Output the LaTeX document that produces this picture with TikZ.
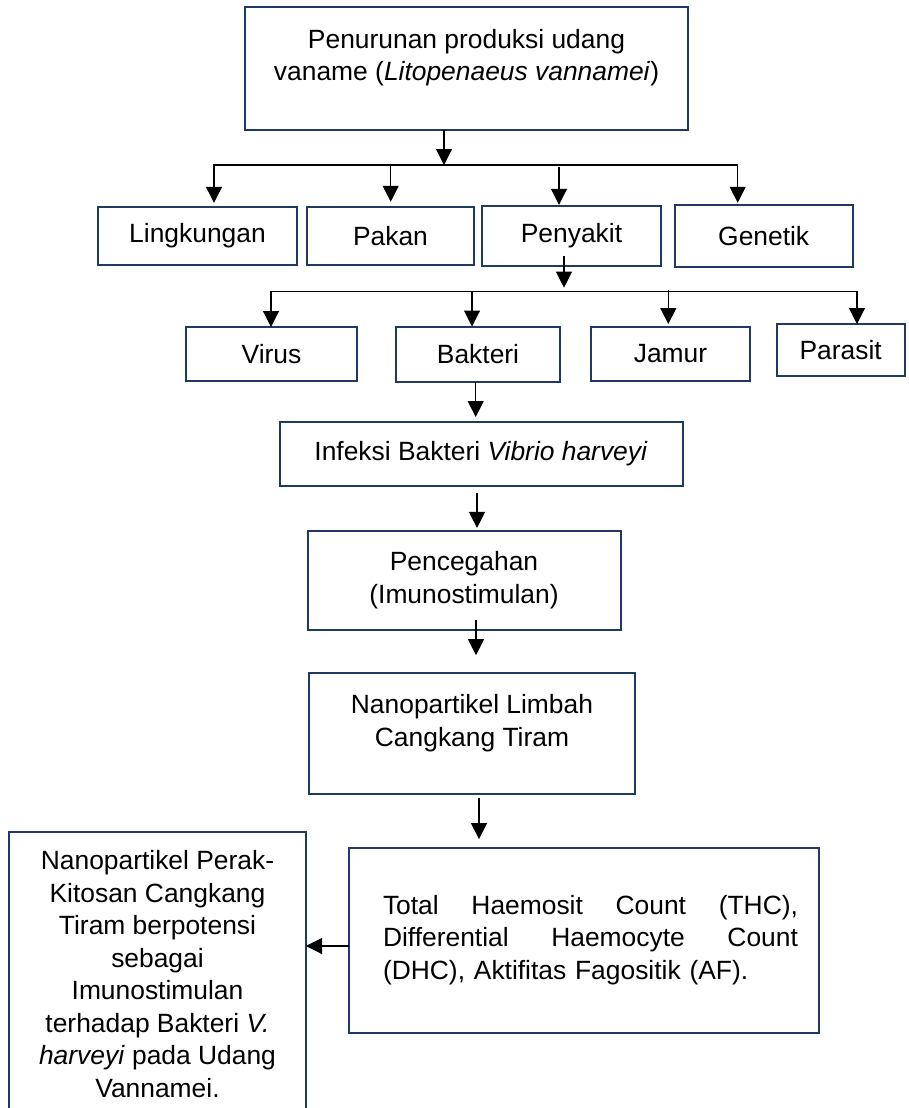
\documentclass[tikz,border=0pt]{standalone}
\usepackage{fontspec}
\setmainfont{Liberation Sans}
\usepackage{tikz}
\usetikzlibrary{arrows.meta,positioning}
\definecolor{boxblue}{HTML}{1F3864}

\begin{document}
\begin{tikzpicture}[
    x=1pt, y=-1pt,
    box/.style={rectangle, draw=boxblue, line width=2pt, inner sep=2pt, outer sep=0pt, align=center, font=\fontsize{26.4}{32.5}\selectfont},
    arrow/.style={-{Triangle[length=16pt, width=16pt]}, line width=1.1pt},
    twoarrow/.style={{Triangle[length=16pt, width=16pt]}-{Triangle[length=16pt, width=16pt]}, line width=1.1pt}
]
\useasboundingbox (0,0) rectangle (908,1108);

\node[box, minimum width=443pt, minimum height=123pt, text depth=27pt] (turun) at (466.5,68.5) {Penurunan produksi udang\\vaname (\textit{Litopenaeus vannamei})};

% faktor penyebab
\node[box, minimum width=199pt, minimum height=58pt] (lingk) at (197.5,235.8) {Lingkungan};
\node[box, minimum width=167pt, minimum height=58pt, right=10pt of lingk] (pakan) {Pakan};
\node[box, minimum width=179pt, minimum height=60pt, right=8pt of pakan] (sakit) {Penyakit};
\node[box, minimum width=178pt, minimum height=62pt, right=13.7pt of sakit] (gen) {Genetik};

% jenis penyakit
\node[box, minimum width=171pt, minimum height=54pt] (virus) at (271.5,354) {Virus};
\node[box, minimum width=164pt, minimum height=55pt, right=39pt of virus] (bakt) {Bakteri};
\node[box, minimum width=159pt, minimum height=54pt, right=31pt of bakt] (jamur) {Jamur};
\node[box, minimum width=128pt, minimum height=52pt, right=26.7pt of jamur, yshift=4pt] (parasit) {Parasit};

\node[box, minimum width=403pt, minimum height=64pt] (infeksi) at (481,454) {Infeksi Bakteri \textit{Vibrio harveyi}};
\node[box, minimum width=313pt, minimum height=99pt] (cegah) at (464,580.4) {Pencegahan\\(Imunostimulan)};
\node[box, minimum width=326pt, minimum height=121pt, text depth=27pt] (nano) at (472,733.7) {Nanopartikel Limbah\\Cangkang Tiram};
\node[box, minimum width=470pt, minimum height=185pt, text width=428pt, align=right] (param) at (584,940) {\leavevmode\hbox to 415pt{Total\hfil Haemosit\hfil Count\hfil (THC),}\\\leavevmode\hbox to 415pt{Differential\hfil Haemocyte\hfil Count}\\\leavevmode\hbox to 415pt{(DHC), Aktifitas Fagositik (AF).\hfil}};
\node[box, minimum width=297pt, minimum height=284pt] (hasil) at (157.5,974) {Nanopartikel Perak-\\Kitosan Cangkang\\Tiram berpotensi\\sebagai\\Imunostimulan\\terhadap Bakteri \textit{V.}\\\textit{harveyi} pada Udang\\Vannamei.};

% cabang pertama
\coordinate (b1) at (444,165);
\coordinate (b1w) at (214,165);
\coordinate (b1p) at (390.7,165);
\coordinate (b1s) at (559,165);
\coordinate (b1e) at (737.7,165);
\draw[arrow] (turun.south -| b1) -- (b1);
\draw[twoarrow, shorten <=4pt, shorten >=2pt] (lingk.north -| b1w) -- (b1w) -- (b1e) -- (gen.north -| b1e);
\draw[arrow, shorten >=5pt] (b1p) -- (pakan.north -| b1p);
\draw[arrow, shorten >=1pt] ([yshift=-1.5pt]b1s) -- (sakit.north -| b1s);

% cabang kedua
\coordinate (b2) at (564,291.7);
\coordinate (b2w) at (271,291.7);
\coordinate (b2b) at (472,291.7);
\coordinate (b2j) at (668.3,291.7);
\coordinate (b2e) at (857,291.7);
\draw[arrow, shorten >=4pt] ([yshift=10pt]sakit.south -| b2) -- (b2);
\draw[twoarrow] (virus.north -| b2w) -- (b2w) -- (b2e) -- (parasit.north -| b2e);
\draw[arrow] (b2b) -- (bakt.north -| b2b);
\draw[arrow, shorten >=3pt] ([yshift=1.5pt]b2j) -- (jamur.north -| b2j);

% alur utama
\draw[arrow, shorten >=5pt] ([xshift=-2.3pt]bakt.south) -- ([xshift=-2.3pt]bakt.south |- infeksi.north);
\draw[arrow, shorten <=6.7pt, shorten >=3pt] ([xshift=-4pt]infeksi.south) -- ([xshift=-4pt]infeksi.south |- cegah.north);
\draw[arrow, shorten >=18pt] ([xshift=12pt, yshift=10pt]cegah.south) -- ([xshift=12pt]cegah.south |- nano.north);
\draw[arrow, shorten <=4pt, shorten >=8.4pt] ([xshift=7pt]nano.south) -- ([xshift=7pt]nano.south |- param.north);
\draw[arrow] ([yshift=-6pt]param.west) -- ([yshift=-6pt]param.west -| hasil.east);
\end{tikzpicture}
\end{document}
